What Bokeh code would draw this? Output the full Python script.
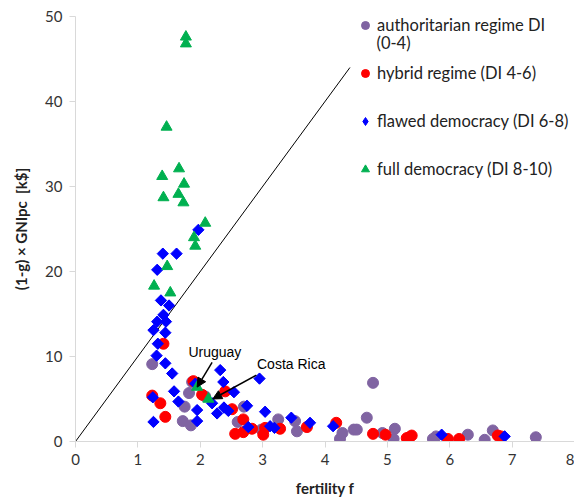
import math
from bokeh.plotting import figure
from bokeh.models import Legend, LegendItem, Label, Arrow, NormalHead, Range1d, FixedTicker
from bokeh.embed import file_html
from bokeh.resources import INLINE

# ---- data ----
auth_f = [1.23, 1.87, 1.82, 2.08, 1.75, 1.72, 1.85, 2.70, 2.60, 2.98, 3.25, 3.52, 3.55, 4.24, 4.28,
          4.46, 4.51, 4.67, 4.77, 4.92, 5.12, 5.10, 5.73, 5.78, 6.29, 6.56, 6.69, 7.38]
auth_g = [9.1, 7.0, 5.7, 5.3, 4.1, 2.4, 1.9, 4.1, 2.3, 1.4, 2.6, 2.4, 1.2, 0.3, 1.0,
          1.4, 1.4, 2.8, 6.9, 1.0, 1.5, 0.3, 0.3, 0.6, 0.8, 0.2, 1.3, 0.5]

hyb_f = [1.41, 1.23, 1.36, 1.44, 1.89, 2.03, 2.40, 2.51, 2.69, 2.56, 2.69, 2.83, 3.01, 3.04, 3.28,
         3.71, 4.18, 4.77, 4.97, 5.31, 5.35, 5.39, 5.97, 6.15, 6.77, 6.82]
hyb_g = [11.5, 5.4, 4.5, 2.9, 7.1, 5.5, 5.9, 3.8, 2.6, 0.9, 1.1, 1.5, 0.8, 1.6, 1.5,
         1.7, 2.2, 0.9, 0.8, 0.4, 0.5, 0.7, 0.3, 0.3, 0.7, 0.6]

flaw_f = [1.97, 1.40, 1.62, 1.31, 1.37, 1.50, 1.41, 1.31, 1.45, 1.25, 1.44, 1.32, 1.30, 1.44, 1.55,
          1.24, 1.58, 1.65, 1.25, 1.95, 1.95, 1.92, 2.32, 2.37, 2.54, 2.19, 2.38, 2.27, 2.45, 2.75,
          2.77, 2.95, 3.04, 3.12, 3.19, 3.46, 3.76, 4.13, 5.87, 6.88]
flaw_g = [24.9, 22.1, 22.1, 20.2, 16.6, 16.0, 14.9, 14.1, 14.1, 13.1, 12.8, 11.5, 10.1, 9.2, 8.0,
          5.2, 5.9, 4.7, 2.3, 2.4, 3.7, 6.8, 8.4, 7.0, 5.8, 4.5, 4.0, 3.3, 3.6, 4.2,
          1.7, 7.4, 3.5, 1.8, 1.6, 2.8, 2.2, 1.8, 0.8, 0.6]

full_f = [1.77, 1.77, 1.46, 1.39, 1.66, 1.74, 1.41, 1.65, 1.73, 2.08, 1.90, 1.92, 1.47, 1.26, 1.52,
          1.95, 2.13]
full_g = [47.6, 46.8, 37.0, 31.2, 32.1, 30.3, 28.7, 29.1, 28.1, 25.7, 24.0, 23.0, 20.6, 18.3, 17.5,
          6.4, 5.0]

ref_line_f = [0, 4.4]
ref_slope = 10

x_ticks = [0, 1, 2, 3, 4, 5, 6, 7, 8]
y_ticks = [0, 10, 20, 30, 40, 50]

labels = ["authoritarian regime DI", "hybrid regime (DI 4-6)", "flawed democracy (DI 6-8)", "full democracy (DI 8-10)"]

FONT = "Lato"

p = figure(width=574, height=499, output_backend="svg", toolbar_location=None,
           x_range=Range1d(0, 8), y_range=Range1d(0, 50),
           min_border_left=75, min_border_right=0, min_border_top=16, min_border_bottom=57)
p.outline_line_color = None
p.xgrid.visible = False
p.ygrid.visible = False
p.background_fill_color = "white"
p.border_fill_color = "white"

# reference line y = 10 x
p.line(ref_line_f, [v * ref_slope for v in ref_line_f], line_color="black", line_width=1)

r_auth = p.scatter(auth_f, auth_g, marker="circle", size=11, fill_color="#8064a2", line_color="#8064a2")
r_hyb = p.scatter(hyb_f, hyb_g, marker="circle", size=11, fill_color="#ff0000", line_color="#ff0000")
# diamond renderer (used for the legend key), fully covered by the rotated squares drawn next
r_flaw_key = p.scatter(flaw_f, flaw_g, marker="diamond", size=10, fill_color="#0000ff", line_color="#0000ff")
r_flaw = p.scatter(flaw_f, flaw_g, marker="square", size=8, angle=math.pi / 4,
                   fill_color="#0000ff", line_color="#0000ff")
r_full = p.scatter(full_f, full_g, marker="triangle", size=11, fill_color="#00b050", line_color="#00b050")

for ax, ticks in ((p.xaxis[0], x_ticks), (p.yaxis[0], y_ticks)):
    ax.ticker = FixedTicker(ticks=ticks)
    ax.axis_line_color = "#d9d9d9"
    ax.major_tick_line_color = "#d9d9d9"
    ax.minor_tick_line_color = None
    ax.major_tick_out = 6
    ax.major_tick_in = 0
    ax.major_label_text_font = FONT
    ax.major_label_text_font_size = "15px"
    ax.major_label_text_color = "#333333"
    ax.axis_label_text_font = FONT
    ax.axis_label_text_font_style = "bold"
    ax.axis_label_text_color = "#222222"

p.xaxis.major_label_standoff = 6
p.yaxis.major_label_standoff = 7
p.xaxis.axis_label = "fertility f"
p.xaxis.axis_label_text_font_size = "15px"
p.xaxis.axis_label_standoff = 11
p.yaxis.axis_label = "(1-g) \u00d7 GNIpc\u00a0\u00a0[k$]"
p.yaxis.axis_label_text_font_size = "15px"
p.yaxis.axis_label_standoff = 12

legend = Legend(items=[LegendItem(label=labels[0], renderers=[r_auth]),
                       LegendItem(label=labels[1], renderers=[r_hyb]),
                       LegendItem(label=labels[2], renderers=[r_flaw_key]),
                       LegendItem(label=labels[3], renderers=[r_full])],
                location=(280, 262), padding=4, margin=0, spacing=28,
                glyph_width=20, glyph_height=20, label_height=20, label_standoff=2,
                label_text_font=FONT, label_text_font_size="16.5px", label_text_color="#222222",
                background_fill_alpha=0, border_line_color=None)
p.add_layout(legend, "center")
p.add_layout(Label(x=301, y=389, x_units="screen", y_units="screen", text="(0-4)",
                   text_font=FONT, text_font_size="16.5px", text_color="#222222"))

# annotations
p.add_layout(Label(x=1.81, y=9.6, text="Uruguay", text_font="Liberation Sans",
                   text_font_size="14px", text_color="black"))
p.add_layout(Label(x=2.91, y=8.2, text="Costa Rica", text_font="Liberation Sans",
                   text_font_size="14px", text_color="black"))
p.add_layout(Arrow(end=NormalHead(size=9, fill_color="black", line_color="black"),
                   x_start=2.19, y_start=9.3, x_end=1.95, y_end=6.4, line_width=1.5))
p.add_layout(Arrow(end=NormalHead(size=9, fill_color="black", line_color="black"),
                   x_start=2.9, y_start=7.8, x_end=2.2, y_end=5.0, line_width=1.5))

open("out.html", "w").write(file_html(p, INLINE))
